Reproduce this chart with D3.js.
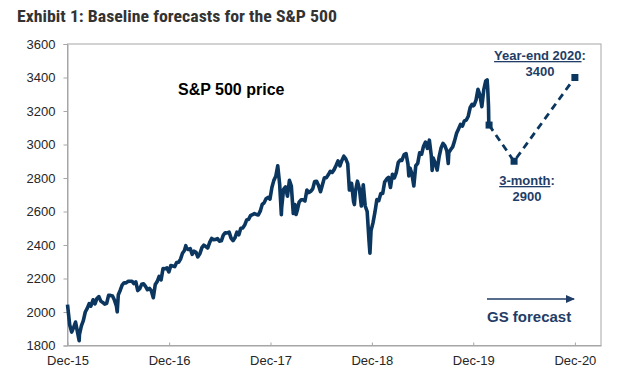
<!DOCTYPE html>
<html>
<head>
<meta charset="utf-8">
<script src="https://cdn.jsdelivr.net/npm/d3@7"></script>
<style>
  body { margin: 0; background: #fff; }
  svg { display: block; font-family: Arial, 'Liberation Sans', sans-serif; }
  .axis path, .axis line { stroke: #a6a6a6; }
  .axis text { fill: #262626; font-size: 13px; }
  .note { fill: #1f3d66; font-weight: bold; font-size: 13px; }
</style>
</head>
<body>
<div id="chart"></div>
<script>
// ============== Data ==============
// S&P 500 weekly closes (plus a few daily extremes)
const spxWeekly = [
  ["2015-12-31",2044],["2016-01-08",1922],["2016-01-15",1880],["2016-01-22",1907],["2016-01-29",1940],
  ["2016-02-05",1880],["2016-02-11",1829],["2016-02-12",1865],["2016-02-19",1917],["2016-02-26",1948],
  ["2016-03-04",2000],["2016-03-11",2022],["2016-03-18",2050],["2016-03-24",2035],["2016-04-01",2073],
  ["2016-04-08",2048],["2016-04-15",2081],["2016-04-22",2092],["2016-04-29",2065],["2016-05-06",2057],
  ["2016-05-13",2047],["2016-05-20",2052],["2016-05-27",2099],["2016-06-03",2099],["2016-06-10",2096],
  ["2016-06-17",2071],["2016-06-24",2037],["2016-06-27",2001],["2016-07-01",2103],["2016-07-08",2130],
  ["2016-07-15",2162],["2016-07-22",2175],["2016-07-29",2174],["2016-08-05",2183],["2016-08-12",2184],
  ["2016-08-19",2184],["2016-08-26",2169],["2016-09-02",2180],["2016-09-09",2128],["2016-09-16",2139],
  ["2016-09-23",2165],["2016-09-30",2168],["2016-10-07",2153],["2016-10-14",2133],["2016-10-21",2141],
  ["2016-10-28",2126],["2016-11-04",2085],["2016-11-11",2164],["2016-11-18",2182],["2016-11-25",2213],
  ["2016-12-02",2192],["2016-12-09",2260],["2016-12-16",2258],["2016-12-23",2264],["2016-12-30",2239],
  ["2017-01-06",2277],["2017-01-13",2275],["2017-01-20",2271],["2017-01-27",2295],["2017-02-03",2297],
  ["2017-02-10",2316],["2017-02-17",2351],["2017-02-24",2367],["2017-03-01",2396],["2017-03-03",2383],
  ["2017-03-10",2373],["2017-03-17",2378],["2017-03-24",2344],["2017-03-31",2363],["2017-04-07",2356],
  ["2017-04-13",2329],["2017-04-21",2349],["2017-04-28",2384],["2017-05-05",2399],["2017-05-12",2391],
  ["2017-05-19",2382],["2017-05-26",2416],["2017-06-02",2439],["2017-06-09",2432],["2017-06-16",2433],
  ["2017-06-23",2438],["2017-06-30",2423],["2017-07-07",2425],["2017-07-14",2459],["2017-07-21",2473],
  ["2017-07-28",2472],["2017-08-04",2477],["2017-08-11",2441],["2017-08-18",2426],["2017-08-25",2443],
  ["2017-09-01",2477],["2017-09-08",2461],["2017-09-15",2500],["2017-09-22",2502],["2017-09-29",2519],
  ["2017-10-06",2549],["2017-10-13",2553],["2017-10-20",2575],["2017-10-27",2581],["2017-11-03",2588],
  ["2017-11-10",2582],["2017-11-17",2579],["2017-11-24",2602],["2017-12-01",2642],["2017-12-08",2652],
  ["2017-12-15",2676],["2017-12-22",2684],["2017-12-29",2674],
  ["2018-01-05",2743],["2018-01-12",2786],["2018-01-19",2810],["2018-01-26",2873],["2018-02-02",2762],
  ["2018-02-08",2581],["2018-02-09",2620],["2018-02-16",2732],["2018-02-23",2747],["2018-03-02",2691],
  ["2018-03-09",2786],["2018-03-16",2752],["2018-03-23",2588],["2018-03-29",2641],["2018-04-02",2582],
  ["2018-04-06",2604],["2018-04-13",2656],["2018-04-20",2670],["2018-04-27",2670],["2018-05-04",2663],
  ["2018-05-11",2728],["2018-05-18",2713],["2018-05-25",2721],["2018-06-01",2735],["2018-06-08",2779],
  ["2018-06-15",2780],["2018-06-22",2755],["2018-06-29",2718],["2018-07-06",2760],["2018-07-13",2801],
  ["2018-07-20",2802],["2018-07-27",2819],["2018-08-03",2840],["2018-08-10",2833],["2018-08-17",2850],
  ["2018-08-24",2875],["2018-08-31",2902],["2018-09-07",2872],["2018-09-14",2905],["2018-09-21",2930],
  ["2018-09-28",2914],["2018-10-05",2886],["2018-10-11",2728],["2018-10-12",2767],["2018-10-19",2768],
  ["2018-10-26",2659],["2018-10-29",2641],["2018-11-02",2723],["2018-11-09",2781],["2018-11-16",2736],
  ["2018-11-23",2633],["2018-11-30",2760],["2018-12-07",2633],["2018-12-14",2600],["2018-12-21",2417],
  ["2018-12-24",2351],["2018-12-28",2486],
  ["2019-01-04",2532],["2019-01-11",2596],["2019-01-18",2671],["2019-01-25",2665],["2019-02-01",2707],
  ["2019-02-08",2708],["2019-02-15",2776],["2019-02-22",2793],["2019-03-01",2804],["2019-03-08",2743],
  ["2019-03-15",2822],["2019-03-22",2801],["2019-03-29",2834],["2019-04-05",2893],["2019-04-12",2907],
  ["2019-04-18",2905],["2019-04-26",2940],["2019-05-03",2946],["2019-05-10",2881],["2019-05-13",2812],
  ["2019-05-17",2860],["2019-05-24",2826],["2019-05-31",2752],["2019-06-07",2873],["2019-06-14",2887],
  ["2019-06-21",2950],["2019-06-28",2942],["2019-07-05",2990],["2019-07-12",3014],["2019-07-19",2977],
  ["2019-07-26",3026],["2019-08-02",2932],["2019-08-05",2845],["2019-08-09",2919],["2019-08-16",2889],
  ["2019-08-23",2847],["2019-08-30",2926],["2019-09-06",2979],["2019-09-13",3007],["2019-09-20",2992],
  ["2019-09-27",2962],["2019-10-02",2887],["2019-10-04",2952],["2019-10-11",2970],["2019-10-18",2986],
  ["2019-10-25",3023],["2019-11-01",3067],["2019-11-08",3093],["2019-11-15",3120],["2019-11-22",3110],
  ["2019-11-29",3141],["2019-12-06",3146],["2019-12-13",3169],["2019-12-20",3221],["2019-12-27",3240],
  ["2019-12-31",3231],
  ["2020-01-03",3235],["2020-01-10",3265],["2020-01-17",3330],["2020-01-24",3295],["2020-01-31",3226],
  ["2020-02-07",3328],["2020-02-14",3380],["2020-02-19",3386],["2020-02-21",3338],["2020-02-24",3226],
  ["2020-02-25",3128],["2020-02-26",3116]
];

// GS forecast path: last close, 3-month target, year-end 2020 target
const forecastDates = ["2020-02-26", "2020-05-26", "2020-12-31"];
const forecastValues = [3116, 2900, 3400];

const yTicks = [1800, 2000, 2200, 2400, 2600, 2800, 3000, 3200, 3400, 3600];
const xTickDates = ["2015-12-31", "2016-12-31", "2017-12-31", "2018-12-31", "2019-12-31", "2020-12-31"];
const xTickLabels = ["Dec-15", "Dec-16", "Dec-17", "Dec-18", "Dec-19", "Dec-20"];

const parse = d3.timeParse("%Y-%m-%d");

// ============== SVG ==============
const width = 622, height = 376;
const margin = {top: 44, right: 21, bottom: 30.5, left: 67.5};

const svg = d3.select("#chart")
  .append("svg")
  .attr("width", width)
  .attr("height", height);

// ============== Scales ==============
const x = d3.scaleTime()
  .domain([parse("2015-12-31"), parse("2021-04-04")])
  .range([margin.left, width - margin.right]);

const y = d3.scaleLinear()
  .domain([1800, 3600])
  .range([height - margin.bottom, margin.top]);

// ============== Frame ==============
svg.append("rect")
  .attr("x", x.range()[0])
  .attr("y", y.range()[1])
  .attr("width", x.range()[1] - x.range()[0])
  .attr("height", y.range()[0] - y.range()[1])
  .attr("fill", "none")
  .attr("stroke", "#a6a6a6");

// ============== Axes ==============
svg.append("g")
  .attr("class", "axis")
  .attr("transform", `translate(${margin.left},0)`)
  .call(d3.axisLeft(y).tickValues(yTicks).tickSize(4).tickPadding(8).tickFormat(d3.format("d")))
  .call(g => g.selectAll("text").attr("font-family", null));

svg.append("g")
  .attr("class", "axis")
  .attr("transform", `translate(0,${y.range()[0]})`)
  .call(d3.axisBottom(x)
    .tickValues(xTickDates.map(parse))
    .tickSizeInner(-3)
    .tickSizeOuter(0)
    .tickPadding(10)
    .tickFormat((d, i) => xTickLabels[i]))
  .call(g => g.selectAll("text").attr("font-family", null));

// ============== Price Line ==============
const line = d3.line()
  .x(d => x(parse(d[0])))
  .y(d => y(d[1]));

svg.append("path")
  .datum(spxWeekly)
  .attr("d", line)
  .attr("fill", "none")
  .attr("stroke", "#0b365f")
  .attr("stroke-width", 3.6)
  .attr("stroke-linejoin", "round");

// ============== Forecast ==============
const forecast = forecastDates.map((d, i) => [d, forecastValues[i]]);

svg.append("path")
  .datum(forecast)
  .attr("d", line)
  .attr("fill", "none")
  .attr("stroke", "#0b365f")
  .attr("stroke-width", 2.8)
  .attr("stroke-dasharray", "7,5");

svg.selectAll(".fc-mark")
  .data(forecast)
  .enter()
  .append("rect")
    .attr("class", "fc-mark")
    .attr("x", d => x(parse(d[0])) - 3.5)
    .attr("y", d => y(d[1]) - 3.5)
    .attr("width", 7)
    .attr("height", 7)
    .attr("fill", "#0b365f");

// ============== Labels ==============
svg.append("text")
  .text("Exhibit 1: Baseline forecasts for the S&P 500")
  .attr("x", 17)
  .attr("y", 22)
  .attr("textLength", 320)
  .attr("lengthAdjust", "spacingAndGlyphs")
  .attr("font-family", "'Liberation Sans Narrow','Arial Narrow','Roboto Condensed',Arial,sans-serif")
  .attr("font-weight", "bold")
  .attr("font-size", 17)
  .attr("fill", "#333");

svg.append("text")
  .text("S&P 500 price")
  .attr("x", 178)
  .attr("y", 95)
  .attr("font-weight", "bold")
  .attr("font-size", 16)
  .attr("fill", "#000");

const notes = [
  {head: "Year-end 2020", value: "3400", x: 540, y: 60},
  {head: "3-month", value: "2900", x: 527, y: 185}
];

notes.forEach(n => {
  const t = svg.append("text")
    .attr("class", "note")
    .attr("x", n.x)
    .attr("y", n.y)
    .attr("text-anchor", "middle");
  t.append("tspan").attr("text-decoration", "underline").text(n.head);
  t.append("tspan").text(":");
  svg.append("text")
    .attr("class", "note")
    .attr("x", n.x)
    .attr("y", n.y + 16)
    .attr("text-anchor", "middle")
    .text(n.value);
});

// ============== GS forecast arrow ==============
svg.append("defs")
  .append("marker")
    .attr("id", "arrow")
    .attr("refX", 8)
    .attr("refY", 4)
    .attr("markerWidth", 10)
    .attr("markerHeight", 8)
    .attr("markerUnits", "userSpaceOnUse")
    .attr("orient", "auto")
  .append("path")
    .attr("d", "M0,0 L9,4 L0,8 Z")
    .attr("fill", "#1f3d66");

svg.append("line")
  .attr("x1", 487)
  .attr("x2", 574)
  .attr("y1", 299)
  .attr("y2", 299)
  .attr("stroke", "#1f3d66")
  .attr("stroke-width", 1.5)
  .attr("marker-end", "url(#arrow)");

svg.append("text")
  .text("GS forecast")
  .attr("x", 487)
  .attr("y", 322)
  .attr("font-weight", "bold")
  .attr("font-size", 15)
  .attr("fill", "#1f3d66");
</script>
</body>
</html>
